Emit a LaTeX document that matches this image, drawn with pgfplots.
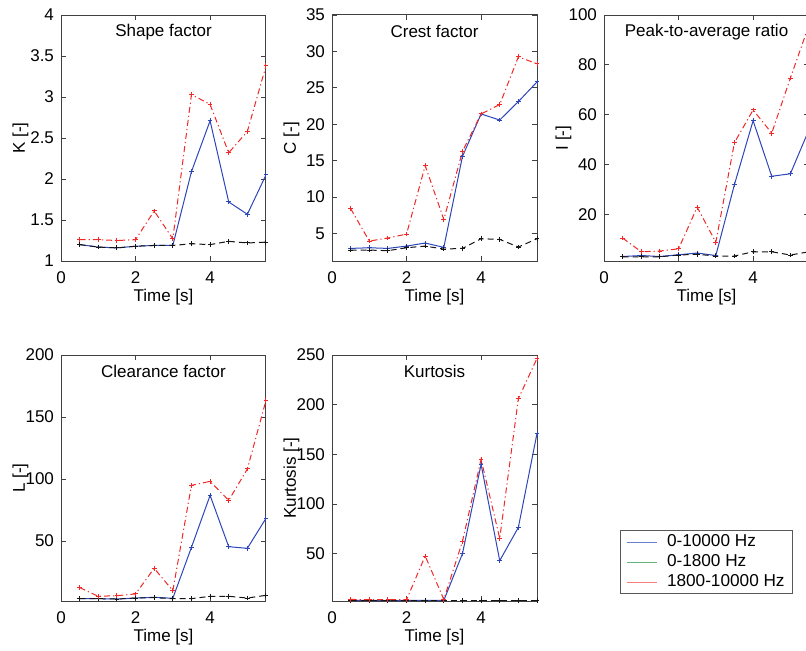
\documentclass[border=0pt]{standalone}
\usepackage{pgfplots}
\pgfplotsset{compat=1.18}
\usepackage{fontspec}
\setmainfont{Liberation Sans}
\definecolor{mblue}{RGB}{45,70,185}
\definecolor{mred}{RGB}{240,40,40}
\definecolor{mgreen}{RGB}{60,160,90}
\definecolor{mblack}{RGB}{20,20,20}
\pgfplotsset{
  mystyle/.style={
    scale only axis, width=102.5pt, height=123pt,
    xmin=0, xmax=5.5, xtick={0,2,4},
    axis line style={draw=black!75, line width=0.5pt},
    tick style={draw=black!75, line width=0.4pt},
    tick align=inside, major tick length=2.5pt,
    ticklabel style={font=\fontsize{8.5}{10}\selectfont},
    xticklabel style={yshift=-2pt},
    /pgf/number format/assume math mode=true,
    title style={font=\fontsize{8.5}{10}\selectfont, at={(axis description cs:0.5,0.932)}, anchor=center, yshift=-6pt},
    xlabel={Time [s]},
    every axis x label/.style={at={(axis description cs:0.5,-0.146)}, anchor=center, font=\fontsize{8.5}{10}\selectfont},
    every axis y label/.style={at={(axis description cs:-0.198,0.5)}, rotate=90, anchor=center, font=\fontsize{8.5}{10}\selectfont},
  },
  bl/.style={color=mblue, line width=0.5pt, mark=+, mark size=1.2pt, forget plot},
  rd/.style={color=mred, line width=0.5pt, dash pattern=on 3pt off 1.5pt on 0.6pt off 1.5pt, mark=+, mark size=1.2pt, mark options={solid}, forget plot},
  bk/.style={color=mblack, line width=0.5pt, dash pattern=on 3pt off 2pt, mark=+, mark size=1.2pt, mark options={solid}, forget plot},
}
\begin{document}
\begin{tikzpicture}
\useasboundingbox (0,0) rectangle (403pt,325pt);
\clip (0,0) rectangle (403pt,325pt);
% Shape factor
\begin{axis}[mystyle, at={(30.5pt,194.5pt)}, anchor=south west,
  ymin=1, ymax=4, ytick={1,1.5,2,2.5,3,3.5,4}, ylabel={K [-]}, title={Shape factor}]
\addplot[bl] coordinates {(0.5,1.20)(1,1.17)(1.5,1.16)(2,1.18)(2.5,1.19)(3,1.19)(3.5,2.09)(4,2.71)(4.5,1.72)(5,1.57)(5.5,2.05)};
\addplot[bk] coordinates {(0.5,1.20)(1,1.17)(1.5,1.16)(2,1.18)(2.5,1.19)(3,1.19)(3.5,1.21)(4,1.20)(4.5,1.24)(5,1.22)(5.5,1.23)};
\addplot[rd] coordinates {(0.5,1.26)(1,1.26)(1.5,1.25)(2,1.26)(2.5,1.61)(3,1.27)(3.5,3.03)(4,2.91)(4.5,2.32)(5,2.58)(5.5,3.38)};
\end{axis}
% Crest factor
\begin{axis}[mystyle, at={(166pt,194.5pt)}, anchor=south west,
  ymin=1.2, ymax=35, ytick={5,10,15,20,25,30,35}, ylabel={C [-]}, title={Crest factor}]
\addplot[bl] coordinates {(0.5,2.93)(1,3.02)(1.5,2.93)(2,3.25)(2.5,3.67)(3,3.07)(3.5,15.57)(4,21.4)(4.5,20.57)(5,23.1)(5.5,25.8)};
\addplot[bk] coordinates {(0.5,2.7)(1,2.7)(1.5,2.62)(2,3.02)(2.5,3.25)(3,2.84)(3.5,2.93)(4,4.26)(4.5,4.17)(5,3.12)(5.5,4.26)};
\addplot[rd] coordinates {(0.5,8.4)(1,3.94)(1.5,4.36)(2,4.9)(2.5,14.3)(3,6.9)(3.5,16.25)(4,21.4)(4.5,22.7)(5,29.25)(5.5,28.3)};
\end{axis}
% Peak-to-average ratio
\begin{axis}[mystyle, at={(302pt,194.5pt)}, anchor=south west,
  ymin=1.3, ymax=100, ytick={20,40,60,80,100}, ylabel={I [-]}, title={Peak-to-average ratio}]
\addplot[bl] coordinates {(0.5,3.1)(1,3.5)(1.5,3.1)(2,3.8)(2.5,4.5)(3,3.5)(3.5,32.0)(4,57.6)(4.5,35.3)(5,36.3)(5.5,54)};
\addplot[bk] coordinates {(0.5,3.0)(1,3.0)(1.5,3.0)(2,3.7)(2.5,4.0)(3,3.3)(3.5,3.3)(4,5.0)(4.5,5.0)(5,3.7)(5.5,5.0)};
\addplot[rd] coordinates {(0.5,10.5)(1,5.0)(1.5,5.3)(2,6.2)(2.5,22.9)(3,8.8)(3.5,48.8)(4,61.9)(4.5,52.6)(5,74.7)(5.5,96)};
\end{axis}
% Clearance factor
\begin{axis}[mystyle, at={(30.5pt,24.5pt)}, anchor=south west,
  ymin=1.6, ymax=200, ytick={50,100,150,200}, ylabel={L [-]}, title={Clearance factor}]
\addplot[bl] coordinates {(0.5,3.5)(1,3.5)(1.5,3.2)(2,4.0)(2.5,4.6)(3,3.8)(3.5,44.9)(4,86.8)(4.5,45.4)(5,44.1)(5.5,68.3)};
\addplot[bk] coordinates {(0.5,3.5)(1,3.5)(1.5,3.2)(2,4.0)(2.5,4.3)(3,3.5)(3.5,3.5)(4,5.4)(4.5,5.4)(5,4.0)(5.5,6.2)};
\addplot[rd] coordinates {(0.5,12.4)(1,5.4)(1.5,5.9)(2,7.3)(2.5,28.0)(3,9.9)(3.5,94.9)(4,98.1)(4.5,82.8)(5,108.1)(5.5,163.4)};
\end{axis}
% Kurtosis
\begin{axis}[mystyle, at={(166pt,24.5pt)}, anchor=south west,
  ymin=2.4, ymax=250, ytick={50,100,150,200,250}, ylabel={Kurtosis [-]}, title={Kurtosis},
  legend cell align=left,
  legend image code/.code={\draw[#1] (0pt,0pt) -- (15pt,0pt);},
  legend style={at={(axis description cs:2.249,0.2886)}, anchor=north east,
    draw=black!65, line width=0.4pt, fill=white,
    font=\fontsize{8.6}{10}\selectfont,
    inner xsep=3pt, inner ysep=0.8pt, row sep=0pt,
    /tikz/every odd column/.append style={column sep=4pt},
    nodes={inner sep=1pt, text height=6.4pt, text depth=1.6pt}}]
\addplot[bl] coordinates {(0.5,3.4)(1,2.7)(1.5,2.7)(2,3.0)(2.5,3.0)(3,3.0)(3.5,50)(4,140)(4.5,43.0)(5,76.5)(5.5,171)};
\addplot[bk] coordinates {(0.5,3.0)(1,3.0)(1.5,3.0)(2,3.0)(2.5,3.0)(3,3.0)(3.5,3.0)(4,3.0)(4.5,3.0)(5,3.0)(5.5,3.0)};
\addplot[rd] coordinates {(0.5,4.0)(1,3.7)(1.5,3.7)(2,3.7)(2.5,47.7)(3,4.0)(3.5,62.4)(4,145)(4.5,65.4)(5,206)(5.5,246.6)};
\addlegendimage{color=mblue!70, line width=0.5pt}
\addlegendentry{0-10000 Hz}
\addlegendimage{color=mgreen!80, line width=0.5pt}
\addlegendentry{0-1800 Hz}
\addlegendimage{color=mred!60, line width=0.5pt}
\addlegendentry{1800-10000 Hz}
\end{axis}
\end{tikzpicture}
\end{document}
